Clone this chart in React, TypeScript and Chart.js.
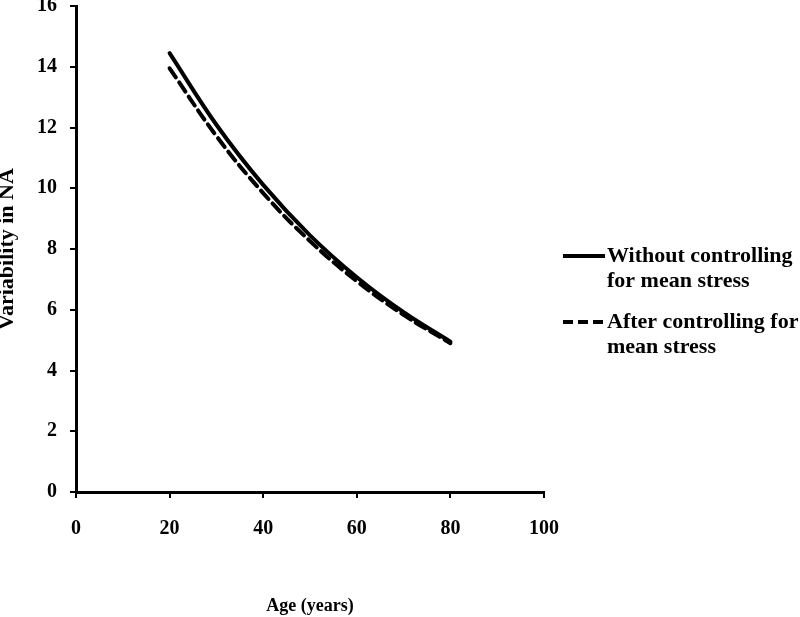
import React, { useEffect, useRef } from "react";
import { Chart, registerables } from "chart.js";

Chart.register(...registerables);

const ages = [20, 30, 40, 50, 60, 70, 80];
const withoutControl = [14.45, 12.09, 10.11, 8.45, 7.07, 5.92, 4.95];
const afterControl = [13.95, 11.72, 9.84, 8.26, 6.94, 5.83, 4.9];
const seriesLabels = ["Without controlling for mean stress", "After controlling for mean stress"];
const legendLines = [
  ["Without controlling", "for mean stress"],
  ["After controlling for", "mean stress"],
];
const xTitle = "Age (years)";
const yTitle = "Variability in NA";

const FONT = "'Liberation Serif', 'Times New Roman', serif";

const legendPlugin = {
  id: "customLegend",
  afterDraw(chart: any) {
    const ctx = chart.ctx;
    ctx.save();
    const tops = [256, 322];
    chart.data.datasets.forEach((ds: any, i: number) => {
      const y = tops[i];
      ctx.strokeStyle = "#000";
      ctx.lineWidth = 4;
      ctx.lineCap = "butt";
      ctx.setLineDash(i === 1 ? [10, 5] : []);
      ctx.beginPath();
      ctx.moveTo(563, y);
      ctx.lineTo(605, y);
      ctx.stroke();
      ctx.setLineDash([]);
      ctx.fillStyle = "#000";
      ctx.font = `bold 22px ${FONT}`;
      ctx.textBaseline = "middle";
      ctx.textAlign = "left";
      legendLines[i].forEach((t, j) => ctx.fillText(t, 607, y + j * 25));
    });
    ctx.restore();
  },
};

export default function App() {
  const ref = useRef<HTMLCanvasElement>(null);
  useEffect(() => {
    document.body.style.margin = "0";
    const chart = new Chart(ref.current!, {
      type: "line",
      data: {
        datasets: [
          {
            label: seriesLabels[0],
            data: ages.map((a, i) => ({ x: a, y: withoutControl[i] })),
            borderColor: "#000",
            borderWidth: 4,
            pointRadius: 0,
            tension: 0.4,
            borderCapStyle: "round",
            fill: false,
          },
          {
            label: seriesLabels[1],
            data: ages.map((a, i) => ({ x: a, y: afterControl[i] })),
            borderColor: "#000",
            borderWidth: 4,
            borderDash: [11, 6],
            pointRadius: 0,
            tension: 0.4,
            borderCapStyle: "round",
            fill: false,
          },
        ],
      },
      options: {
        animation: false,
        responsive: false,
        maintainAspectRatio: false,
        layout: { padding: { left: 0, top: 6, right: 256, bottom: 0 } },
        plugins: {
          legend: { display: false },
          tooltip: { enabled: false },
        },
        scales: {
          x: {
            type: "linear",
            min: 0,
            max: 100,
            ticks: {
              stepSize: 20,
              color: "#000",
              padding: 19,
              font: { family: FONT, size: 20, weight: "bold" },
            },
            grid: { drawOnChartArea: false, drawTicks: true, tickLength: 6, color: "#000", lineWidth: 2 },
            border: { color: "#000", width: 3 },
            title: {
              display: true,
              text: xTitle,
              color: "#000",
              font: { family: FONT, size: 18, weight: "bold" },
              padding: { top: 56, bottom: 0 },
            },
            afterFit(scale: any) {
              scale.height = 125;
              scale.paddingLeft = 0;
              scale.paddingRight = 0;
            },
          },
          y: {
            min: 0,
            max: 16,
            ticks: {
              stepSize: 2,
              color: "#000",
              padding: 13,
              font: { family: FONT, size: 20, weight: "bold" },
            },
            grid: { drawOnChartArea: false, drawTicks: true, tickLength: 6, color: "#000", lineWidth: 2 },
            border: { color: "#000", width: 3 },
            title: {
              display: true,
              text: yTitle,
              color: "#000",
              font: { family: FONT, size: 22, weight: "bold" },
              padding: { top: -6, bottom: 0 },
            },
            afterFit(scale: any) {
              scale.width = 76;
              scale.paddingTop = 0;
              scale.paddingBottom = 0;
            },
          },
        },
      },
      plugins: [legendPlugin],
    } as any);
    return () => chart.destroy();
  }, []);
  return <canvas ref={ref} width={800} height={617} style={{ display: "block" }} />;
}
